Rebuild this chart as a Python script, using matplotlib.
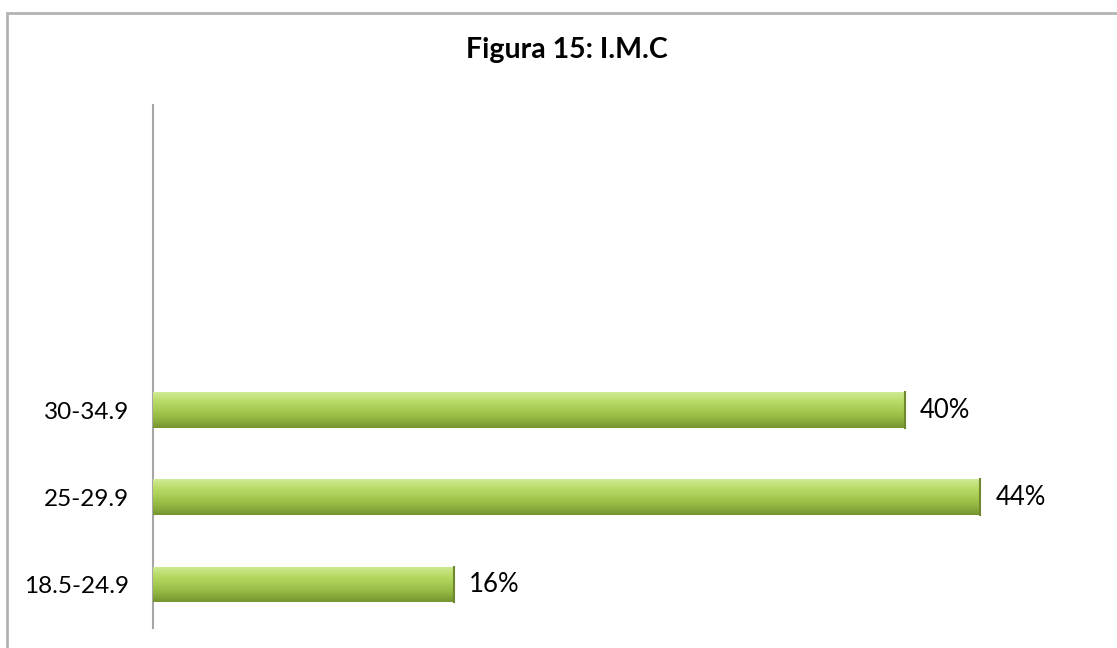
import numpy as np
import matplotlib
matplotlib.use('Agg')
import matplotlib.pyplot as plt
from matplotlib.colors import LinearSegmentedColormap

# I.M.C categories (bottom to top), three empty slots above
categorias = ['18.5-24.9', '25-29.9', '30-34.9', '', '', '']
valores = [16, 44, 40]
etiquetas = ['16%', '44%', '40%']
titulo = 'Figura 15: I.M.C'

plt.rcParams['font.family'] = ['Lato', 'DejaVu Sans']

fig = plt.figure(figsize=(11.17, 6.48), dpi=100)
fig.patches.append(plt.Rectangle((7 / 1117, -0.1), 1.2, (648 - 13) / 648 + 0.1,
                                 transform=fig.transFigure, fill=False,
                                 edgecolor='#b3b3b3', linewidth=2))

ax = fig.add_axes([153 / 1117, 20 / 648, 940 / 1117, 523 / 648])
ypos = np.arange(len(valores))
bars = ax.barh(ypos, valores, height=0.41, color='#9dc147', edgecolor='none', zorder=2)

# green gradient on every bar
grad = LinearSegmentedColormap.from_list('g', ['#76952f', '#91b542', '#a6cb52', '#b9db68', '#d0ea96'])
g = np.linspace(0, 1, 64).reshape(-1, 1)
for b in bars:
    x0, y0, w, h = b.get_x(), b.get_y(), b.get_width(), b.get_height()
    im = ax.imshow(g, cmap=grad, aspect='auto', origin='lower',
                   extent=[x0, x0 + w, y0, y0 + h], zorder=3)
    im.set_clip_path(b)
    ax.plot([x0 + w, x0 + w], [y0, y0 + h], color='#6f8a2c', lw=1.5, zorder=4)

for v, y, t in zip(valores, ypos, etiquetas):
    ax.text(v + 0.8, y, t, va='center', ha='left', fontsize=18.5, color='black')

ax.set_xlim(0, 50)
ax.set_ylim(-0.5, len(categorias) - 0.5)
ax.set_yticks(np.arange(len(categorias)))
ax.set_yticklabels(categorias, fontsize=17.5)
ax.tick_params(axis='y', length=0, pad=17)
ax.set_xticks([])
for s in ['top', 'right', 'bottom']:
    ax.spines[s].set_visible(False)
ax.spines['left'].set_color('#a6a6a6')
ax.spines['left'].set_linewidth(1.5)

fig.text(567 / 1117, 1 - 50 / 648, titulo, ha='center', va='center',
         fontsize=20.5, fontweight='bold')

fig.savefig('out.png', dpi=100)
